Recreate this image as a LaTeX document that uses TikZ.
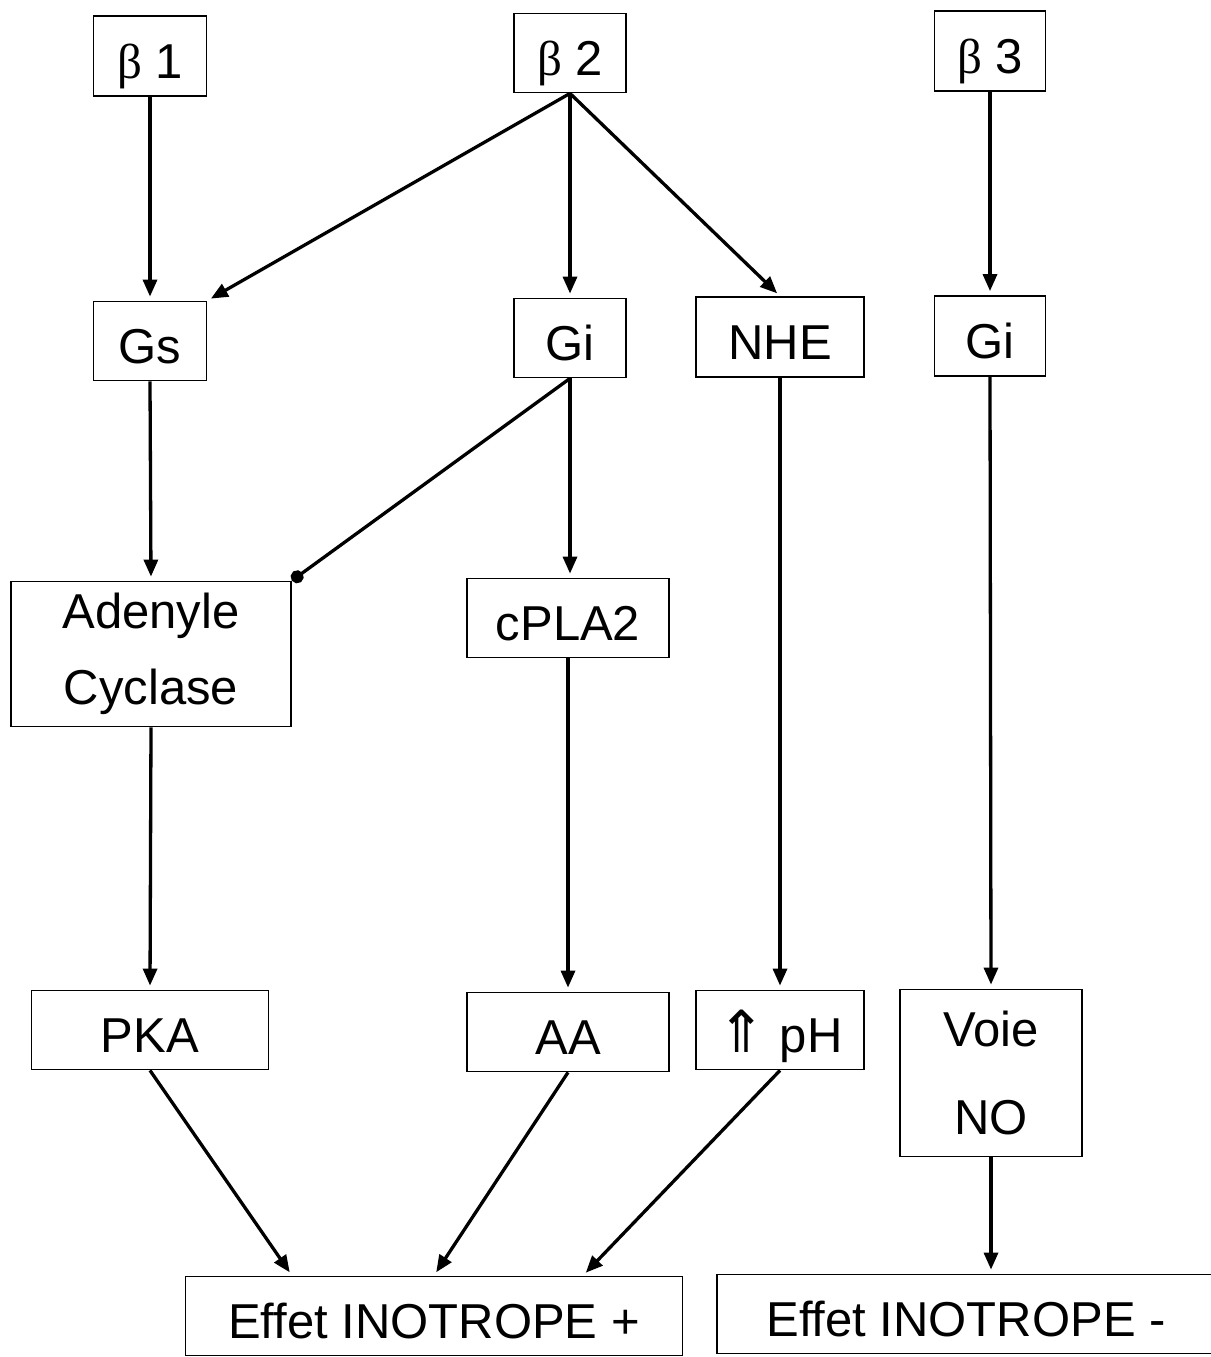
\documentclass[tikz,border=0pt]{standalone}
\usepackage{fontspec}
\setmainfont{Liberation Sans}
\newfontfamily\betafont{Liberation Serif}
\newfontfamily\arrowfont{DejaVu Sans}
\usetikzlibrary{calc}
\usetikzlibrary{arrows.meta}

\begin{document}
\begin{tikzpicture}[x=1pt,y=-1pt,
  box/.style={draw,line width=1.8pt,inner sep=0pt,font=\fontsize{49}{56}\selectfont},
  onel/.style={box,text height=44pt,text depth=0pt},
  twol/.style={box,align=center},
  arr/.style={line width=3.3pt,-{Triangle[length=17pt,width=14pt]},shorten >=4pt},
  inh/.style={line width=3.3pt,-{Circle[length=13pt]}}]

\useasboundingbox (0,0) rectangle (1210,1357);

\node[onel,minimum width=113,minimum height=80] (b1) at (150,56) {{\betafont β} 1};
\node[onel,minimum width=112,minimum height=79] (b2) at (570,53) {{\betafont β} 2};
\node[onel,minimum width=111,minimum height=80] (b3) at (990,51) {{\betafont β} 3};

\node[onel,minimum width=113,minimum height=79] (gs) at (150,341) {Gs};
\node[onel,minimum width=112,minimum height=79] (gi) at (570,338) {Gi};
\node[onel,minimum width=168,minimum height=80] (nhe) at (780,337) {NHE};
\node[onel,minimum width=111,minimum height=80] (gib) at (990,336) {Gi};

\node[twol,minimum width=280,minimum height=145,font=\fontsize{49}{76}\selectfont] (ac) at (151,654) {Adenyle\\Cyclase};
\node[onel,minimum width=202,minimum height=79] (cpla) at (568,618) {cPLA2};

\node[onel,minimum width=237,minimum height=79] (pka) at (150,1030) {PKA};
\node[onel,minimum width=202,minimum height=79] (aa) at (568,1032) {AA};
\node[onel,minimum width=168,minimum height=79] (ph) at (780,1030) {{\arrowfont\fontsize{58}{56}\selectfont ⇑} pH};
\node[twol,minimum width=182,minimum height=167,font=\fontsize{49}{88}\selectfont] (no) at (991,1073) {Voie\\NO};

\node[onel,minimum width=497,minimum height=79] (eplus) at (434,1316) {Effet INOTROPE +};
\node[onel,minimum width=498,minimum height=79] (emoins) at (966,1314) {Effet INOTROPE -};

\draw[arr] (b1.south) -- (gs.north);
\draw[arr] (b2.south) -- (gs.north east);
\draw[arr] (b2.south) -- (gi.north);
\draw[arr] (b2.south) -- (nhe.north);
\draw[arr] (b3.south) -- (gib.north);

\draw[arr] (gs.south) -- (ac.north);
\draw[inh] (gi.south) -- (ac.north east);
\draw[arr] (gi.south) -- (gi.south |- cpla.north);
\draw[arr] (nhe.south) -- (ph.north);
\draw[arr] (gib.south) -- (no.north);

\draw[arr] (ac.south) -- (pka.north);
\draw[arr] (cpla.south) -- (aa.north);

\draw[arr] (pka.south) -- ($(eplus.north)+(-142,0)$);
\draw[arr] (aa.south) -- (eplus.north);
\draw[arr] (ph.south) -- ($(eplus.north)+(149,0)$);
\draw[arr] (no.south) -- (no.south |- emoins.north);

\end{tikzpicture}
\end{document}
